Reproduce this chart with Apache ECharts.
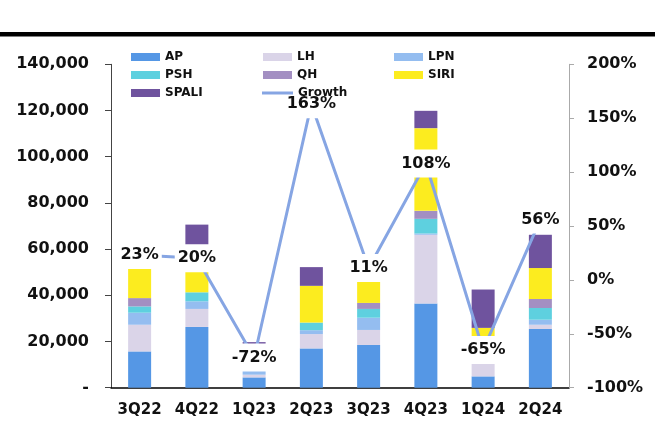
<!DOCTYPE html>
<html>
<head>
<meta charset="utf-8">
<script src="https://cdn.jsdelivr.net/npm/echarts@6/dist/echarts.min.js"></script>
<style>html,body{margin:0;padding:0;background:#fff}#c{width:655px;height:421px}</style>
</head>
<body>
<div id="c"></div>
<script>
const categories = ['3Q22','4Q22','1Q23','2Q23','3Q23','4Q23','1Q24','2Q24'];
const AP    = [15700, 26300, 4460, 17000, 18500, 36500, 4900, 25400];
const LH    = [11560, 7800, 1170, 6200, 6500, 29700, 7300, 1860];
const LPN   = [5200, 3300, 2600, 1700, 5300, 550, 1800, 2170];
const PSH   = [2730, 3900, 1300, 3300, 3800, 6350, 2600, 5070];
const QH    = [3600, 0, 900, 0, 2600, 3460, 1800, 3900];
const SIRI  = [13000, 16300, 5200, 15900, 9350, 35800, 7500, 13400];
const SPALI = [0, 13000, 4100, 8100, 0, 7500, 16600, 14400];
const growth = [23, 20, -72, 163, 11, 108, -65, 56];

const barNames = ['AP','LH','LPN','PSH','QH','SIRI','SPALI'];
const barData = [AP, LH, LPN, PSH, QH, SIRI, SPALI];
const barColors = ['#5597e5','#dad4e8','#94bdf0','#5ed0df','#a38fc2','#fcec1f','#6f539e'];
const lineColor = '#86a5e3';
const FONT = 'DejaVu Sans';

const chart = echarts.init(document.getElementById('c'));

const legendPos = {
  AP: [131, 51], LH: [263, 51], LPN: [394, 51],
  PSH: [131, 69], QH: [263, 69], SIRI: [394, 69],
  SPALI: [131, 87], Growth: [262, 87]
};
const legends = Object.keys(legendPos).map(n => ({
  data: [n],
  left: legendPos[n][0], top: legendPos[n][1],
  padding: 0, z: 20,
  itemWidth: n === 'Growth' ? 31 : 29,
  itemHeight: n === 'Growth' ? 3 : 8,
  icon: 'rect',
  itemGap: 0,
  selectedMode: false,
  textStyle: {fontFamily: FONT, fontWeight: 'bold', fontSize: 12, color: '#111'}
}));

const series = barNames.map((n, i) => ({
  name: n, type: 'bar', stack: 'total', data: barData[i],
  barWidth: 23, itemStyle: {color: barColors[i]}, z: 2
}));
series.push({
  name: 'Growth', type: 'line', yAxisIndex: 1, data: growth,
  symbol: 'circle', symbolSize: 1, z: 3,
  lineStyle: {color: lineColor, width: 3},
  itemStyle: {color: lineColor},
  label: {
    show: true, position: 'inside', formatter: p => p.value + '%',
    fontFamily: FONT, fontWeight: 'bold', fontSize: 16, color: '#111',
    backgroundColor: '#fff', padding: [6, 3]
  }
});

chart.setOption({
  animation: false,
  grid: {left: 111, right: 86, top: 64.3, bottom: 33.3},
  legend: legends,
  graphic: [{type: 'rect', shape: {x: 0, y: 32, width: 655, height: 4.5}, style: {fill: '#000'}}],
  xAxis: {
    type: 'category', data: categories,
    axisLine: {lineStyle: {color: '#000', width: 1.5}},
    axisTick: {show: false},
    axisLabel: {interval: 0, fontFamily: FONT, fontWeight: 'bold', fontSize: 15, color: '#111', margin: 15}
  },
  yAxis: [{
    type: 'value', min: 0, max: 140000, interval: 20000,
    splitLine: {show: false},
    axisLine: {show: true, lineStyle: {color: '#444'}},
    axisTick: {show: true, length: 6, lineStyle: {color: '#444'}},
    axisLabel: {fontFamily: FONT, fontWeight: 'bold', fontSize: 16, color: '#111', margin: 22,
      formatter: v => v === 0 ? '-' : v.toLocaleString('en-US')}
  }, {
    type: 'value', min: -100, max: 200, interval: 50, position: 'right',
    splitLine: {show: false},
    axisLine: {show: true, lineStyle: {color: '#aaa'}},
    axisTick: {show: true, length: 5, lineStyle: {color: '#aaa'}},
    axisLabel: {fontFamily: FONT, fontWeight: 'bold', fontSize: 16, color: '#111', margin: 18,
      formatter: v => v + '%'}
  }],
  series: series
});
</script>
</body>
</html>
